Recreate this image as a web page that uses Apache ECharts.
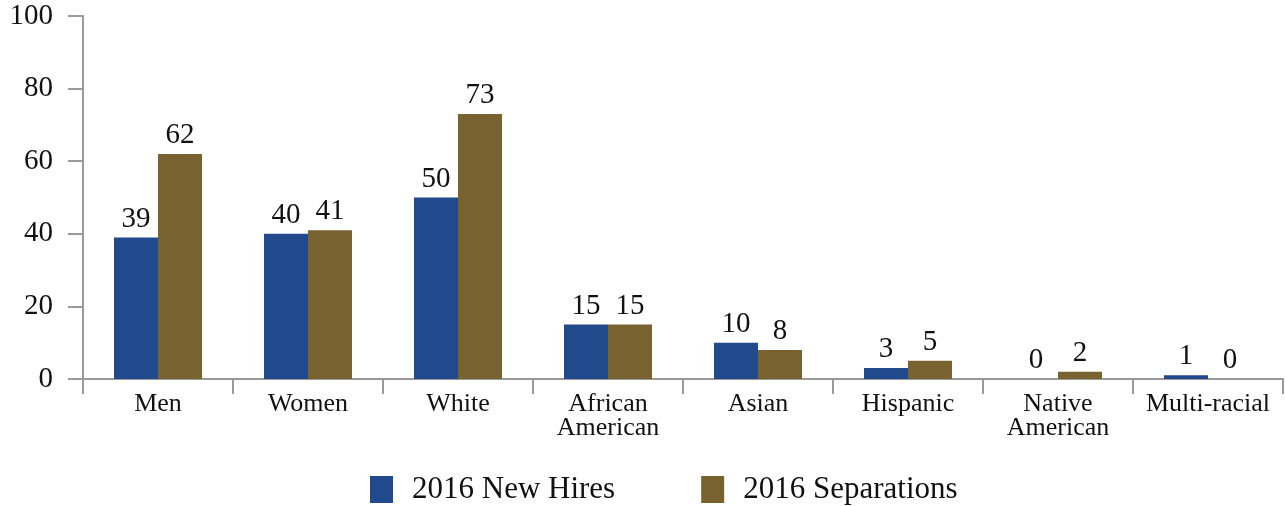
<!DOCTYPE html>
<html>
<head>
<meta charset="utf-8">
<script src="https://cdn.jsdelivr.net/npm/echarts@6/dist/echarts.min.js"></script>
<style>
  html, body { margin: 0; padding: 0; background: #fff; }
  #chart { width: 1286px; height: 506px; }
</style>
</head>
<body>
<div id="chart"></div>
<script>
// Workforce movement by group, 2016
const categories = ['Men', 'Women', 'White', 'African\nAmerican', 'Asian', 'Hispanic', 'Native\nAmerican', 'Multi-racial'];
const newHires = [39, 40, 50, 15, 10, 3, 0, 1];
const separations = [62, 41, 73, 15, 8, 5, 2, 0];
const seriesNames = ['2016 New Hires', '2016 Separations'];
const yTicks = { min: 0, max: 100, interval: 20 };

const FONT = '"Liberation Serif", "DejaVu Serif", serif';
const AXIS_GRAY = '#9a9a9a';
const BLUE = '#204a8b';
const BROWN = '#786330';

const valueLabel = {
  show: true,
  position: 'top',
  distance: 4,
  color: '#111',
  fontFamily: FONT,
  fontSize: 29
};

const chart = echarts.init(document.getElementById('chart'), null, { renderer: 'canvas' });
chart.setOption({
  animation: false,
  backgroundColor: '#ffffff',
  grid: { left: 83, right: 3, top: 16, bottom: 127, containLabel: false },
  legend: {
    left: 365,
    top: 469,
    itemWidth: 23,
    itemHeight: 27,
    itemGap: 86,
    icon: 'rect',
    textStyle: { fontFamily: FONT, fontSize: 31, color: '#111', padding: [0, 0, 0, 14] },
    data: seriesNames
  },
  xAxis: {
    type: 'category',
    data: categories,
    axisLine: { show: true, lineStyle: { color: AXIS_GRAY, width: 2 } },
    axisTick: { show: true, length: 15, lineStyle: { color: AXIS_GRAY, width: 2 } },
    axisLabel: {
      interval: 0,
      margin: 13,
      fontFamily: FONT,
      fontSize: 26,
      lineHeight: 24,
      color: '#111'
    },
    splitLine: { show: false }
  },
  yAxis: {
    type: 'value',
    min: yTicks.min,
    max: yTicks.max,
    interval: yTicks.interval,
    axisLine: { show: true, lineStyle: { color: AXIS_GRAY, width: 2 } },
    axisTick: { show: true, length: 15, lineStyle: { color: AXIS_GRAY, width: 2 } },
    axisLabel: { margin: 30, fontFamily: FONT, fontSize: 29, color: '#111' },
    splitLine: { show: false }
  },
  series: [
    {
      name: seriesNames[0],
      type: 'bar',
      data: newHires,
      barWidth: 44,
      barGap: '0%',
      itemStyle: { color: BLUE },
      label: valueLabel
    },
    {
      name: seriesNames[1],
      type: 'bar',
      data: separations,
      barWidth: 44,
      barGap: '0%',
      itemStyle: { color: BROWN },
      label: valueLabel
    }
  ]
});
</script>
</body>
</html>
